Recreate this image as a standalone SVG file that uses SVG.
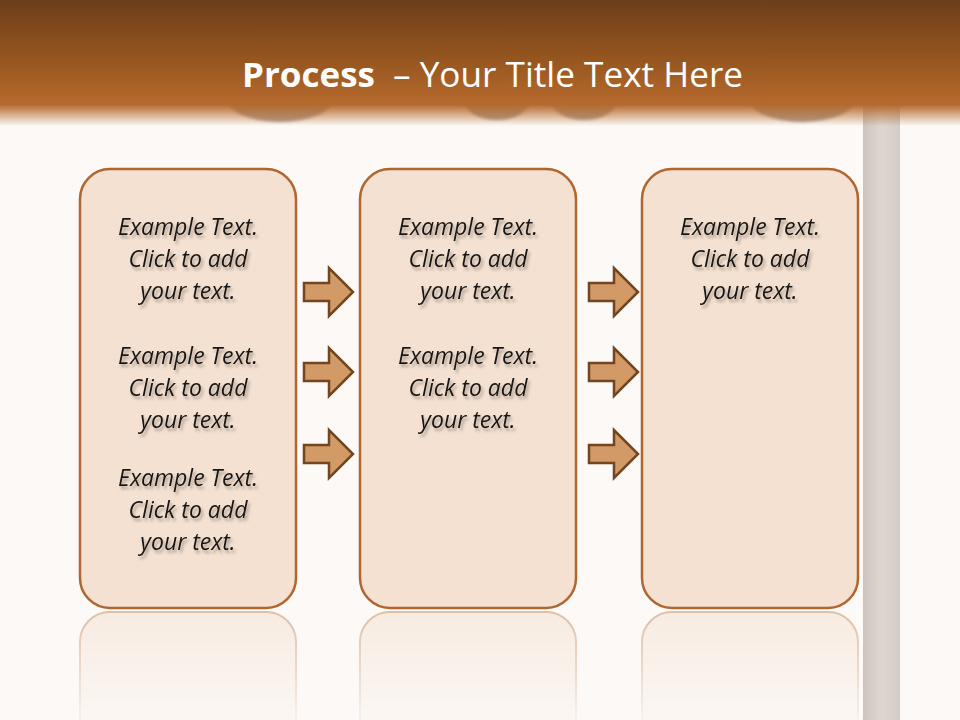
<svg xmlns="http://www.w3.org/2000/svg" width="960" height="720" viewBox="0 0 960 720">
<defs>
<linearGradient id="hdr" x1="0" y1="0" x2="0" y2="1">
<stop offset="0" stop-color="#6c3e1a"/>
<stop offset="0.45" stop-color="#94551f"/>
<stop offset="0.8" stop-color="#b4682c"/>
<stop offset="0.83" stop-color="#b46a2e"/>
<stop offset="1" stop-color="#b46a2e" stop-opacity="0"/>
</linearGradient>
<linearGradient id="bar" x1="0" y1="0" x2="1" y2="0">
<stop offset="0" stop-color="#cbc3be"/>
<stop offset="0.5" stop-color="#ddd6d1"/>
<stop offset="1" stop-color="#d2cbc6"/>
</linearGradient>
<linearGradient id="reflFade" x1="0" y1="0" x2="0" y2="1">
<stop offset="0" stop-color="#fff" stop-opacity="0.75"/>
<stop offset="1" stop-color="#fff" stop-opacity="0.1"/>
</linearGradient>
<filter id="tshadow" x="-10%" y="-20%" width="130%" height="160%">
<feDropShadow dx="2" dy="3" stdDeviation="1.6" flood-color="#7a6a60" flood-opacity="0.6"/>
</filter>
<filter id="blur" x="-20%" y="-50%" width="140%" height="200%">
<feGaussianBlur stdDeviation="1.5"/>
</filter>
<mask id="m" maskUnits="userSpaceOnUse" x="0" y="608" width="960" height="112">
<rect x="0" y="608" width="960" height="112" fill="url(#reflFade)"/>
</mask>
<path id="arrow" d="M0,-9 H25 V-24 L49,0 L25,24 V9 H0 Z"/>
</defs>
<style>
.box{fill:#f4e1d1;stroke:#b06630;stroke-width:2.5}
.refl{fill:#f6e6d9;stroke:#d2ab8a;stroke-width:2}
.arr{fill:#d19a66;stroke:#74461f;stroke-width:2.5;stroke-linejoin:miter}
.t{font-family:"Open Sans","Liberation Sans",sans-serif;font-style:italic;font-size:23px;fill:#141414;text-anchor:middle}
.title{font-family:"Open Sans","Liberation Sans",sans-serif;fill:#ffffff}
</style>
<rect width="960" height="720" fill="#fcf9f6"/>
<!-- right bar -->
<rect x="863" y="100" width="37" height="620" fill="url(#bar)"/>
<!-- blobs under header -->
<g fill="#a08b7e" opacity="0.85" filter="url(#blur)">
<ellipse cx="280" cy="100" rx="52" ry="22"/>
<ellipse cx="497" cy="100" rx="33" ry="20"/>
<ellipse cx="584" cy="100" rx="33" ry="20"/>
<ellipse cx="802" cy="100" rx="52" ry="22"/>
</g>
<!-- header -->
<rect x="0" y="0" width="960" height="126" fill="url(#hdr)"/>
<g id="title">
<text class="title" x="242" y="87" font-size="34" font-weight="bold" textLength="133" lengthAdjust="spacingAndGlyphs">Process</text>
<text class="title" x="393" y="87" font-size="34" textLength="350" lengthAdjust="spacingAndGlyphs">– Your Title Text Here</text>
</g>
<!-- reflections -->
<g id="reflections" mask="url(#m)">
<rect class="refl" x="80" y="612" width="216" height="439" rx="30"/>
<rect class="refl" x="360" y="612" width="216" height="439" rx="30"/>
<rect class="refl" x="642" y="612" width="216" height="439" rx="30"/>
</g>
<!-- nodes -->
<g id="box1">
<rect class="box" x="80" y="169" width="216" height="439" rx="30"/>
<g filter="url(#tshadow)">
<text class="t" x="188" y="235">Example Text.</text>
<text class="t" x="188" y="267">Click  to add</text>
<text class="t" x="188" y="299">your text.</text>
<text class="t" x="188" y="364">Example Text.</text>
<text class="t" x="188" y="396">Click  to add</text>
<text class="t" x="188" y="428">your text.</text>
<text class="t" x="188" y="486">Example Text.</text>
<text class="t" x="188" y="518">Click  to add</text>
<text class="t" x="188" y="550">your text.</text>
</g>
</g>
<g id="box2">
<rect class="box" x="360" y="169" width="216" height="439" rx="30"/>
<g filter="url(#tshadow)">
<text class="t" x="468" y="235">Example Text.</text>
<text class="t" x="468" y="267">Click  to add</text>
<text class="t" x="468" y="299">your text.</text>
<text class="t" x="468" y="364">Example Text.</text>
<text class="t" x="468" y="396">Click  to add</text>
<text class="t" x="468" y="428">your text.</text>
</g>
</g>
<g id="box3">
<rect class="box" x="642" y="169" width="216" height="439" rx="30"/>
<g filter="url(#tshadow)">
<text class="t" x="750" y="235">Example Text.</text>
<text class="t" x="750" y="267">Click  to add</text>
<text class="t" x="750" y="299">your text.</text>
</g>
</g>
<!-- connectors -->
<g id="connectors">
<use href="#arrow" class="arr" x="304" y="292"/>
<use href="#arrow" class="arr" x="304" y="372"/>
<use href="#arrow" class="arr" x="304" y="454"/>
<use href="#arrow" class="arr" x="589" y="292"/>
<use href="#arrow" class="arr" x="589" y="372"/>
<use href="#arrow" class="arr" x="589" y="454"/>
</g>
</svg>
